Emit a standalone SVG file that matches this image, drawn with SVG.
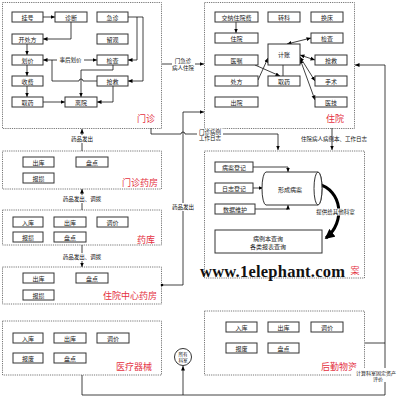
<svg xmlns="http://www.w3.org/2000/svg" width="400" height="400" viewBox="0 0 400 400">
<defs>
<marker id="ah" viewBox="0 0 6 6" refX="6" refY="3" markerWidth="4.5" markerHeight="4.5" markerUnits="userSpaceOnUse" orient="auto-start-reverse"><path d="M0,0.4L6,3L0,5.6z" fill="#000"/></marker>
<marker id="bh" viewBox="0 0 6 6" refX="5" refY="3" markerWidth="10" markerHeight="10" markerUnits="userSpaceOnUse" orient="auto"><path d="M0,0L6,3L0,6z" fill="#000"/></marker>
</defs>
<style>
.grp{fill:none;stroke:#777;stroke-width:1;stroke-dasharray:1.2 1}
.n rect{fill:#fff;stroke:#333;stroke-width:1}
text{font-family:"Noto Sans CJK SC","Noto Sans",sans-serif}
.t{font-size:6px;fill:#222;text-anchor:middle;dominant-baseline:central}
.lb{font-size:9px;fill:#e4313f;text-anchor:middle;dominant-baseline:central}
.c{fill:none;stroke:#111;stroke-width:0.8}
.ar{marker-end:url(#ah)}
.ar2{marker-start:url(#ah);marker-end:url(#ah)}
.cl{font-size:5.5px;fill:#111;text-anchor:middle;dominant-baseline:central}
.bg{fill:#fff}
.wm{font-family:"Liberation Serif",serif;font-weight:bold;font-size:16.5px;fill:#111}
.sm{font-size:4.6px}
</style>
<rect width="400" height="400" fill="#fff"/>

<!-- group frames -->
<g id="frame-menzhen"><rect class="grp" x="2.5" y="2.5" width="159" height="126"/><text class="lb" x="146" y="118">门诊</text></g>
<g id="frame-zhuyuan"><rect class="grp" x="204.5" y="2.5" width="150" height="126"/><text class="lb" x="335" y="118">住院</text></g>
<g id="frame-mzyf"><rect class="grp" x="2.5" y="151" width="159" height="38"/><text class="lb" x="140" y="182">门诊药房</text></g>
<g id="frame-yaoku"><rect class="grp" x="2.5" y="210" width="159" height="35"/><text class="lb" x="146" y="239">药库</text></g>
<g id="frame-zyyf"><rect class="grp" x="2.5" y="267" width="159" height="37"/><text class="lb" x="130" y="295">住院中心药房</text></g>
<g id="frame-ylqx"><rect class="grp" x="2.5" y="321" width="159" height="54"/><text class="lb" x="134" y="366">医疗器械</text></g>
<g id="frame-binganan"><rect class="grp" x="204.5" y="151" width="160" height="127"/><text class="lb" x="355" y="270">案</text></g>
<g id="frame-hqwz"><rect class="grp" x="204.5" y="311" width="160" height="64"/><text class="lb" x="339" y="366">后勤物资</text></g>

<!-- connectors -->
<g id="connectors">
<path class="c ar" d="M43,17H55"/>
<path class="c ar" d="M71,22V39H43"/>
<path class="c ar" d="M27,44V55"/>
<path class="c ar" d="M27,65V76"/>
<path class="c ar" d="M27,86V97"/>
<path class="c ar" d="M43,102H65"/>
<path class="c ar" d="M128,17H137V60H128"/>
<path class="c ar" d="M137,17H143V81H128"/>
<path class="c ar2" d="M97,60H43"/>
<path class="c" d="M97,81H83A2,2 0 0 0 79,81H52V60"/>
<path class="c ar" d="M113,65V70H81V97"/>
<path class="c ar" d="M113,86V102H97"/>
<rect class="bg" x="57" y="56.5" width="27" height="7"/>
<text class="cl" x="70.5" y="60">事后划价</text>

<path class="c ar" d="M162,64H204"/>
<rect class="bg" x="172" y="57" width="23" height="15"/>
<text class="cl" x="183" y="60.5">门急诊</text>
<text class="cl" x="183" y="68">病人住院</text>

<path class="c ar" d="M236,22V33"/>
<path class="c ar2" d="M287,44L311,38"/>
<path class="c ar" d="M255,65L280,76"/>
<path class="c ar" d="M258,80L268,58"/>
<path class="c" d="M283,65V76"/>
<path class="c ar2" d="M300,55L315,60"/>
<path class="c ar2" d="M300,57L315,81"/>
<path class="c ar2" d="M300,59L315,100"/>

<path class="c ar" d="M385,395V65H355"/>
<path class="c" d="M82,375V395H385"/>
<path class="c" d="M365,343H385"/>
<path class="c ar" d="M183,395V366"/>

<circle cx="162" cy="285" r="1.3" fill="#000"/>
<path class="c ar" d="M162,285H183V112H204"/>
<rect class="bg" x="170" y="203" width="26" height="8"/>
<text class="cl" x="183" y="207">药品发出</text>

<path class="c ar" d="M151,128V134H181A2,2 0 0 1 185,134H278V150"/>
<rect class="bg" x="197" y="128.5" width="26" height="13"/>
<text class="cl" x="210" y="131.5">门诊病例</text>
<text class="cl" x="210" y="138">工作日志</text>
<path class="c ar" d="M332,128V150"/>
<text class="cl" x="334" y="139">住院病人病例本、工作日志</text>

<path class="c ar" d="M82,151V129"/>
<rect class="bg" x="69" y="135" width="26" height="8"/>
<text class="cl" x="82" y="139">药品发出</text>
<path class="c ar" d="M82,210V189"/>
<rect class="bg" x="60" y="195" width="44" height="8"/>
<text class="cl" x="82" y="199">药品发出、调拨</text>
<path class="c ar" d="M82,245V267"/>
<rect class="bg" x="60" y="253" width="44" height="8"/>
<text class="cl" x="82" y="257">药品发出、调拨</text>

<path class="c ar" d="M253,167H288V172"/>
<path class="c ar" d="M253,188H263"/>
<path class="c ar" d="M255,209H288V205"/>
<path fill="none" stroke="#000" stroke-width="3" marker-end="url(#bh)" d="M318,184C342,190 346,222 326,238"/>
<rect class="bg" x="313" y="208.5" width="45" height="7"/>
<text class="cl" x="335.5" y="212">提供给其他科室</text>

<rect class="bg" x="352" y="368" width="48" height="14"/>
<text x="376" y="372" font-size="5" text-anchor="middle" dominant-baseline="central" fill="#111">计算科室固定资产</text>
<text x="378" y="378.5" font-size="5" text-anchor="middle" dominant-baseline="central" fill="#111">评价</text>
</g>

<!-- 门诊 nodes -->
<g id="mz-guahao" class="n"><rect x="12" y="12" width="31" height="10"/><text class="t" x="27.5" y="17">挂号</text></g>
<g id="mz-zhenduan" class="n"><rect x="55" y="12" width="32" height="10"/><text class="t" x="71" y="17">诊断</text></g>
<g id="mz-jizhen" class="n"><rect x="97" y="12" width="31" height="10"/><text class="t" x="112.5" y="17">急诊</text></g>
<g id="mz-kaichufang" class="n"><rect x="12" y="34" width="31" height="10"/><text class="t" x="27.5" y="39">开处方</text></g>
<g id="mz-liuguan" class="n"><rect x="97" y="34" width="31" height="10"/><text class="t" x="112.5" y="39">留观</text></g>
<g id="mz-huajia" class="n"><rect x="12" y="55" width="31" height="10"/><text class="t" x="27.5" y="60">划价</text></g>
<g id="mz-jiancha" class="n"><rect x="97" y="55" width="31" height="10"/><text class="t" x="112.5" y="60">检查</text></g>
<g id="mz-shoufei" class="n"><rect x="12" y="76" width="31" height="10"/><text class="t" x="27.5" y="81">收费</text></g>
<g id="mz-qiangjiu" class="n"><rect x="97" y="76" width="31" height="10"/><text class="t" x="112.5" y="81">抢救</text></g>
<g id="mz-quyao" class="n"><rect x="12" y="97" width="31" height="10"/><text class="t" x="27.5" y="102">取药</text></g>
<g id="mz-liyuan" class="n"><rect x="65" y="97" width="32" height="10"/><text class="t" x="81" y="102">离院</text></g>

<!-- 住院 nodes -->
<g id="zy-jiaona" class="n"><rect x="215" y="12" width="43" height="10"/><text class="t" x="236.5" y="17">交纳住院费</text></g>
<g id="zy-zhuanke" class="n"><rect x="268" y="12" width="32" height="10"/><text class="t" x="284" y="17">转科</text></g>
<g id="zy-huanchuang" class="n"><rect x="311" y="12" width="32" height="10"/><text class="t" x="327" y="17">换床</text></g>
<g id="zy-zhuyuan" class="n"><rect x="215" y="33" width="43" height="10"/><text class="t" x="236.5" y="38">住院</text></g>
<g id="zy-jiancha" class="n"><rect x="311" y="33" width="32" height="10"/><text class="t" x="327" y="38">检查</text></g>
<g id="zy-jizhang" class="n"><rect x="268" y="44" width="32" height="21"/><text class="t" x="284" y="54">计账</text></g>
<g id="zy-yizhu" class="n"><rect x="215" y="55" width="43" height="10"/><text class="t" x="236.5" y="60">医嘱</text></g>
<g id="zy-qiangjiu" class="n"><rect x="315" y="55" width="32" height="10"/><text class="t" x="331" y="60">抢救</text></g>
<g id="zy-chufang" class="n"><rect x="215" y="76" width="43" height="10"/><text class="t" x="236.5" y="81">处方</text></g>
<g id="zy-quyao" class="n"><rect x="268" y="76" width="32" height="10"/><text class="t" x="284" y="81">取药</text></g>
<g id="zy-shoushu" class="n"><rect x="315" y="76" width="32" height="10"/><text class="t" x="331" y="81">手术</text></g>
<g id="zy-chuyuan" class="n"><rect x="215" y="97" width="43" height="10"/><text class="t" x="236.5" y="102">出院</text></g>
<g id="zy-yiji" class="n"><rect x="315" y="97" width="32" height="10"/><text class="t" x="331" y="102">医技</text></g>

<!-- 门诊药房 -->
<g id="mzyf-chuku" class="n"><rect x="23" y="157" width="31" height="10"/><text class="t" x="38.5" y="162">出库</text></g>
<g id="mzyf-pandian" class="n"><rect x="76" y="157" width="32" height="10"/><text class="t" x="92" y="162">盘点</text></g>
<g id="mzyf-baosun" class="n"><rect x="23" y="173" width="31" height="10"/><text class="t" x="38.5" y="178">报损</text></g>

<!-- 药库 -->
<g id="yk-ruku" class="n"><rect x="13" y="217" width="30" height="10"/><text class="t" x="28" y="222">入库</text></g>
<g id="yk-chuku" class="n"><rect x="54" y="217" width="32" height="10"/><text class="t" x="70" y="222">出库</text></g>
<g id="yk-tiaojia" class="n"><rect x="97" y="217" width="31" height="10"/><text class="t" x="112.5" y="222">调价</text></g>
<g id="yk-baosun" class="n"><rect x="13" y="232" width="30" height="10"/><text class="t" x="28" y="237">报损</text></g>
<g id="yk-pandian" class="n"><rect x="54" y="232" width="32" height="10"/><text class="t" x="70" y="237">盘点</text></g>

<!-- 住院中心药房 -->
<g id="zyyf-chuku" class="n"><rect x="23" y="273" width="31" height="10"/><text class="t" x="38.5" y="278">出库</text></g>
<g id="zyyf-pandian" class="n"><rect x="76" y="273" width="32" height="10"/><text class="t" x="92" y="278">盘点</text></g>
<g id="zyyf-baosun" class="n"><rect x="23" y="290" width="31" height="10"/><text class="t" x="38.5" y="295">报损</text></g>

<!-- 医疗器械 -->
<g id="qx-ruku" class="n"><rect x="13" y="333" width="30" height="10"/><text class="t" x="28" y="338">入库</text></g>
<g id="qx-chuku" class="n"><rect x="54" y="333" width="32" height="10"/><text class="t" x="70" y="338">出库</text></g>
<g id="qx-tiaojia" class="n"><rect x="97" y="333" width="32" height="10"/><text class="t" x="113" y="338">调价</text></g>
<g id="qx-baofei" class="n"><rect x="13" y="353" width="30" height="10"/><text class="t" x="28" y="358">报废</text></g>
<g id="qx-pandian" class="n"><rect x="54" y="353" width="32" height="10"/><text class="t" x="70" y="358">盘点</text></g>

<!-- 后勤物资 -->
<g id="hq-ruku" class="n"><rect x="226" y="322" width="31" height="10"/><text class="t" x="241.5" y="327">入库</text></g>
<g id="hq-chuku" class="n"><rect x="268" y="322" width="31" height="10"/><text class="t" x="283.5" y="327">出库</text></g>
<g id="hq-tiaojia" class="n"><rect x="311" y="322" width="32" height="10"/><text class="t" x="327" y="327">调价</text></g>
<g id="hq-baofei" class="n"><rect x="226" y="343" width="31" height="10"/><text class="t" x="241.5" y="348">报废</text></g>
<g id="hq-pandian" class="n"><rect x="268" y="343" width="31" height="10"/><text class="t" x="283.5" y="348">盘点</text></g>

<!-- 病案 -->
<g id="ba-dengji" class="n"><rect x="215" y="162" width="38" height="10"/><text class="t" x="234" y="167">病案登记</text></g>
<g id="ba-rizhi" class="n"><rect x="215" y="183" width="38" height="10"/><text class="t" x="234" y="188">日志登记</text></g>
<g id="ba-weihu" class="n"><rect x="215" y="204" width="40" height="10"/><text class="t" x="235" y="209">数据维护</text></g>
<g id="ba-xingcheng"><path d="M266,172H318A4,16.5 0 0 1 318,205H266A4,16.5 0 0 1 266,172Z" fill="#fff" stroke="#333" stroke-width="1"/><ellipse cx="318" cy="188.5" rx="4" ry="16.5" fill="#fff" stroke="#333" stroke-width="1"/><text class="t" x="290" y="189">形成病案</text></g>
<g id="ba-chaxun" class="n"><rect x="215" y="230" width="107" height="23"/><text class="t" x="268" y="238">病例本查询</text><text class="t" x="268" y="246.5">各类报表查询</text></g>

<g id="suoyou"><circle cx="183" cy="357" r="8.5" fill="#fff" stroke="#333" stroke-width="1"/><text class="t sm" x="183" y="354">所有</text><text class="t sm" x="183" y="360.2">科室</text></g>

<text class="wm" x="200" y="277" textLength="145">www.1elephant.com</text>
</svg>
